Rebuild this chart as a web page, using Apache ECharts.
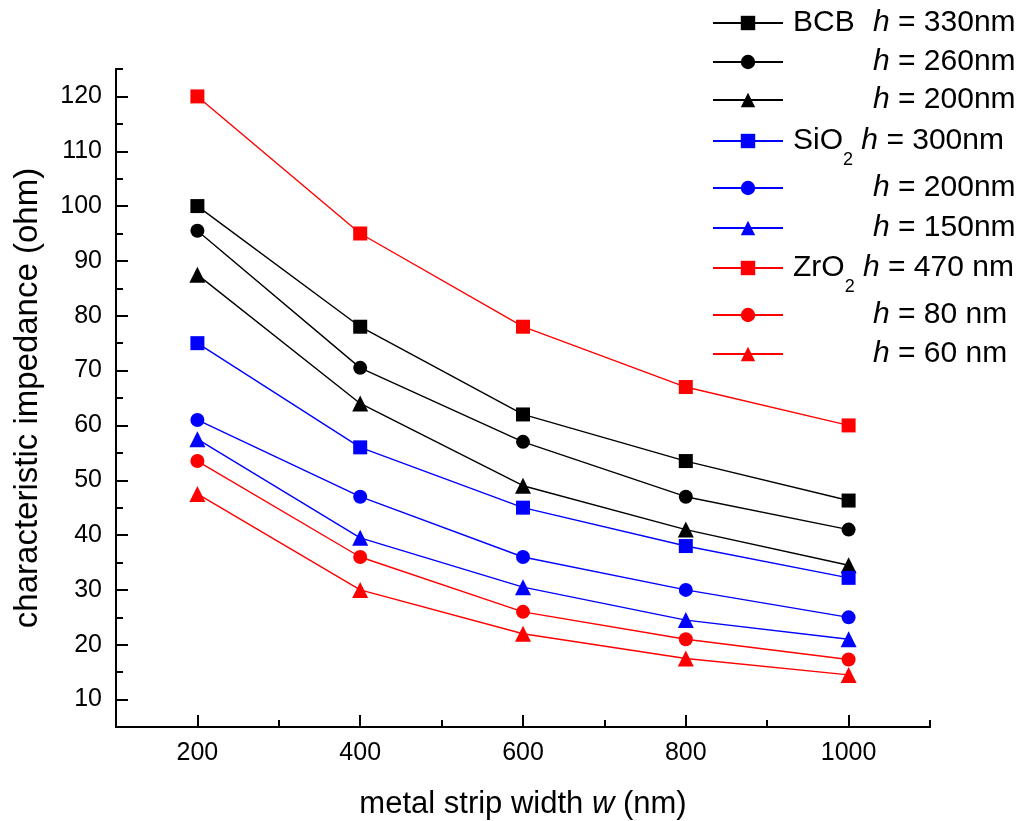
<!DOCTYPE html>
<html>
<head>
<meta charset="utf-8">
<script src="https://cdn.jsdelivr.net/npm/echarts@6/dist/echarts.min.js"></script>
<style>
  html, body { margin: 0; padding: 0; background: #fff; }
  #chart { width: 1031px; height: 821px; }
</style>
</head>
<body>
<div id="chart"></div>
<script>
// x values (metal strip width, nm)
var widths = [200, 400, 600, 800, 1000];

// characteristic impedance (ohm)
var bcb330 = [100, 78, 62, 53.5, 46.3];
var bcb260 = [95.5, 70.5, 57, 47, 41];
var bcb200 = [87.5, 64, 49, 41, 34.5];
var sio300 = [75, 56, 45, 38, 32.2];
var sio200 = [61, 47, 36, 30, 25];
var sio150 = [57.5, 39.5, 30.5, 24.5, 21];
var zro470 = [120, 95, 78, 67, 60];
var zro80 = [53.5, 36, 26, 21, 17.3];
var zro60 = [47.5, 30, 22, 17.5, 14.5];

var seriesNames = ['BCB h = 330nm', 'BCB h = 260nm', 'BCB h = 200nm',
    'SiO2 h = 300nm', 'SiO2 h = 200nm', 'SiO2 h = 150nm',
    'ZrO2 h = 470 nm', 'ZrO2 h = 80 nm', 'ZrO2 h = 60 nm'];
var legendLabels = ['{m|BCB}{i|h} = 330nm', '{m| }{i|h} = 260nm', '{m| }{i|h} = 200nm',
    '{p|SiO}{s|2} {i|h} = 300nm', '{m| }{i|h} = 200nm', '{m| }{i|h} = 150nm',
    '{p|ZrO}{s|2} {i|h} = 470 nm', '{m| }{i|h} = 80 nm', '{m| }{i|h} = 60 nm'];
var seriesValues = [bcb330, bcb260, bcb200, sio300, sio200, sio150, zro470, zro80, zro60];

// ticks
var xMajor = [200, 400, 600, 800, 1000];
var xMinor = [300, 500, 700, 900, 1100];
var yMajor = [10, 20, 30, 40, 50, 60, 70, 80, 90, 100, 110, 120];
var yMinor = [15, 25, 35, 45, 55, 65, 75, 85, 95, 105, 115, 125];

var colors = ['#000000', '#000000', '#000000', '#0000ff', '#0000ff', '#0000ff', '#ff0000', '#ff0000', '#ff0000'];
var symbols = ['rect', 'circle', 'triangle', 'rect', 'circle', 'triangle', 'rect', 'circle', 'triangle'];
var legendCenters = [23, 62, 100, 141, 188, 228, 268, 315, 354];

var font = 'Liberation Sans, Arial, sans-serif';
var myChart = echarts.init(document.getElementById('chart'));

var series = seriesNames.map(function (name, i) {
    return {
        name: name,
        type: 'line',
        symbol: symbols[i],
        symbolSize: symbols[i] === 'triangle' ? 16 : 14,
        lineStyle: { color: colors[i], width: 1.4 },
        itemStyle: { color: colors[i] },
        data: widths.map(function (w, j) { return [w, seriesValues[i][j]]; }),
        animation: false
    };
});

var legendRich = {
    m: { width: 80, padding: [0, 0, 0, 5], fontSize: 30, fontFamily: font, color: '#000' },
    p: { padding: [0, 0, 0, 5], fontSize: 30, fontFamily: font, color: '#000' },
    i: { fontStyle: 'italic', fontSize: 30, fontFamily: font, color: '#000' },
    s: { fontSize: 18, lineHeight: 18, padding: [38, 0, 0, 0], fontFamily: font, color: '#000' }
};

var legends = seriesNames.map(function (name, i) {
    return {
        data: [name],
        orient: 'vertical',
        left: 712,
        top: legendCenters[i] - 28,
        padding: 0,
        itemWidth: 70,
        itemHeight: 18,
        formatter: function () { return legendLabels[i]; },
        textStyle: { fontSize: 30, lineHeight: 56, fontFamily: font, color: '#000', rich: legendRich }
    };
});

var axisLineStyle = { color: '#000', width: 2 };
var plainNum = function (v) { return String(v); };

var option = {
    backgroundColor: '#fff',
    animation: false,
    grid: { left: 116, top: 69, right: 101, bottom: 94, containLabel: false, outerBoundsMode: 'none' },
    legend: legends,
    xAxis: [{
        type: 'value', min: 100, max: 1100, position: 'bottom',
        axisLine: { lineStyle: axisLineStyle },
        axisTick: { inside: true, length: 12, lineStyle: axisLineStyle, customValues: xMajor },
        axisLabel: { customValues: xMajor, formatter: plainNum, fontSize: 25, color: '#000', fontFamily: font, margin: 14 },
        splitLine: { show: false },
        name: 'metal strip width {i|w} (nm)',
        nameLocation: 'middle',
        nameGap: 62,
        nameTextStyle: {
            fontSize: 31, color: '#000', fontFamily: font,
            rich: { i: { fontStyle: 'italic', fontSize: 31, fontFamily: font, color: '#000' } }
        }
    }, {
        type: 'value', min: 100, max: 1100, position: 'bottom',
        axisLine: { lineStyle: axisLineStyle },
        axisTick: { inside: true, length: 7, lineStyle: axisLineStyle, customValues: xMinor },
        axisLabel: { show: false },
        splitLine: { show: false }
    }],
    yAxis: [{
        type: 'value', min: 5, max: 125, position: 'left',
        axisLine: { show: true, lineStyle: axisLineStyle },
        axisTick: { show: true, inside: true, length: 12, lineStyle: axisLineStyle, customValues: yMajor },
        axisLabel: { customValues: yMajor, formatter: plainNum, fontSize: 25, color: '#000', fontFamily: font, margin: 14 },
        splitLine: { show: false },
        name: 'characteristic impedance (ohm)',
        nameLocation: 'middle',
        nameGap: 72,
        nameTextStyle: { fontSize: 33, color: '#000', fontFamily: font }
    }, {
        type: 'value', min: 5, max: 125, position: 'left',
        axisLine: { show: true, lineStyle: axisLineStyle },
        axisTick: { show: true, inside: true, length: 7, lineStyle: axisLineStyle, customValues: yMinor },
        axisLabel: { show: false },
        splitLine: { show: false }
    }],
    series: series
};
myChart.setOption(option);
</script>
</body>
</html>
